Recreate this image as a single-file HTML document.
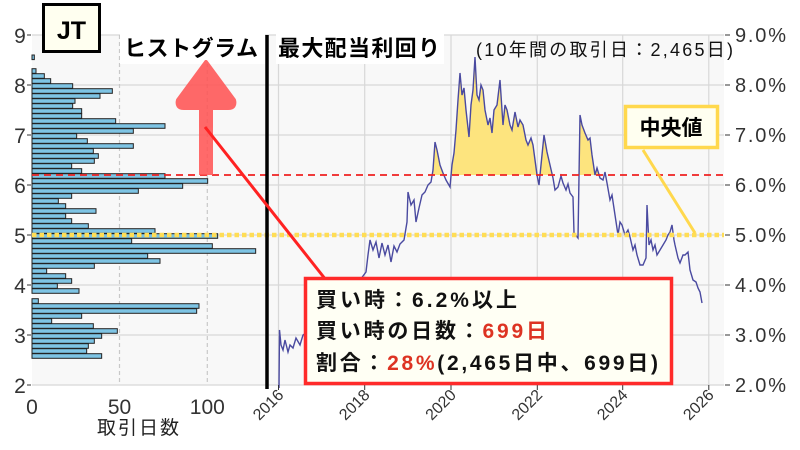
<!DOCTYPE html>
<html><head><meta charset="utf-8"><style>
body{margin:0;background:#fff;}
svg{display:block;font-family:"Liberation Sans","Noto Sans CJK JP",sans-serif;}
</style></head><body>
<svg id="s" width="800" height="450" viewBox="0 0 800 450" xmlns="http://www.w3.org/2000/svg">
<rect x="32" y="35" width="235" height="350" fill="#f8f8f8"/>
<rect x="268" y="35" width="456" height="350" fill="#f8f8f8"/>
<g id="grid" stroke="#d8d8d8" stroke-width="1.2"></g>
<g id="bars"></g>
<defs><clipPath id="above"><rect x="268" y="0" width="460" height="175"/></clipPath></defs>
<polygon id="fill" fill="#fde47e" clip-path="url(#above)"/>
<polyline id="line" fill="none" stroke="#4a4aa0" stroke-width="1.4"/>
<line x1="32" y1="175" x2="724" y2="175" stroke="#ee2222" stroke-width="1.8" stroke-dasharray="7,5"/>
<line x1="32" y1="235" x2="724" y2="235" stroke="#ffdd55" stroke-width="4.5" stroke-dasharray="4.5,3"/>
<line x1="267" y1="35" x2="267" y2="389" stroke="#000" stroke-width="3.5"/>
<g id="labels" fill="#333" font-size="21"></g>
<text x="138" y="434" font-size="19" fill="#222" text-anchor="middle" textLength="82">取引日数</text>
<rect x="120" y="34" width="145" height="30" fill="#fff"/>
<text x="124" y="56" font-size="22" font-weight="bold" fill="#000" textLength="134">ヒストグラム</text>
<rect x="276" y="34" width="168" height="30" fill="#fff"/>
<text x="278" y="56" font-size="22" font-weight="bold" fill="#000" textLength="162">最大配当利回り</text>
<text x="476" y="56" font-size="18" fill="#111" textLength="257">(10年間の取引日：2,465日)</text>
<rect x="43.5" y="4.5" width="56" height="47" fill="#fffff0" stroke="#000" stroke-width="3"/>
<text x="71.5" y="39" font-size="25" font-weight="bold" text-anchor="middle" fill="#000">JT</text>
<g fill="#ff5555" opacity="0.88">
<rect x="199" y="100" width="14" height="75"/>
<path d="M206 62 L234 100 Q236 108 228 108 L184 108 Q176 108 178 100 Z" stroke="#ff5555" stroke-width="4" stroke-linejoin="round"/>
</g>
<line x1="205" y1="127" x2="326" y2="280" stroke="#ff2222" stroke-width="3"/>
<line x1="643" y1="150" x2="695" y2="233" stroke="#ffd84d" stroke-width="3"/>
<rect x="625.5" y="106.5" width="92" height="41" fill="#fffff0" stroke="#ffd84d" stroke-width="3.5"/>
<text x="671" y="135" font-size="21" font-weight="bold" text-anchor="middle" fill="#000">中央値</text>
<rect x="305.5" y="278.5" width="366" height="105" fill="#fffff4" stroke="#ff2a2a" stroke-width="3.5"/>
<g font-size="21" font-weight="bold" fill="#111">
<text x="316" y="307" textLength="201">買い時：6.2%以上</text>
<text x="316" y="338" textLength="231">買い時の日数：<tspan fill="#dd3322">699日</tspan></text>
<text x="316" y="370" textLength="342">割合：<tspan fill="#dd3322">28%</tspan>(2,465日中、699日)</text>
</g>
</svg>
<script>
const NS="http://www.w3.org/2000/svg";
function el(p,t,a,txt){const e=document.createElementNS(NS,t);for(const k in a)e.setAttribute(k,a[k]);if(txt!==undefined)e.textContent=txt;document.getElementById(p).appendChild(e);return e;}
for(let v=2;v<=9;v++){const y=385-(v-2)*50;el("grid","line",{x1:32,x2:724,y1:y,y2:y});}
const yrs=[[2016,278.5],[2018,364.7],[2020,451],[2022,537.3],[2024,622.7],[2026,708.8]];
yrs.forEach(([yr,x])=>{el("grid","line",{x1:x,x2:x,y1:35,y2:385});});
[119.5,207.3].forEach(x=>el("grid","line",{x1:x,x2:x,y1:35,y2:385,"stroke-dasharray":"4,3",stroke:"#c8c8c8"}));
const ends=[108,133,152,218,337,300,225,218,245,245,347,495,400,230,262,400,280,295,283,215,245,495,623,548,415,215,175,197,288,197,215,
265,465,653,395,637,767,443,480,283,140,197,215,172,237,0,115,597,590,245,155,280,352,305,283,265,260,305];
function bar(cy,e){const w=e/3-32;if(w<=0.5)return;el("bars","rect",{x:32,y:cy-2.3,width:w,height:4.6,fill:"#7ec4e4",stroke:"#222","stroke-width":1});}
bar(57.3,103);
ends.forEach((e,i)=>bar(71+5*i,e));
for(let v=2;v<=9;v++){const y=385-(v-2)*50;
 el("labels","text",{x:20,y:y+8,"text-anchor":"middle"},String(v));
 el("labels","text",{x:735,y:y+7,"font-size":20,textLength:51},v.toFixed(1)+"%");
 el("labels","line",{x1:725,x2:730,y1:y,y2:y,stroke:"#333"});
 el("labels","line",{x1:27,x2:31,y1:y,y2:y,stroke:"#333"});}
[[0,32],[50,119.5],[100,207.3]].forEach(([t,x])=>el("labels","text",{x:x,y:414,"text-anchor":"middle"},String(t)));
yrs.forEach(([yr,x])=>{el("labels","text",{x:0,y:0,"font-size":16,"text-anchor":"end",transform:`translate(${x+6},${396}) rotate(-45)`},String(yr));
 el("labels","line",{x1:x,x2:x,y1:385,y2:390,stroke:"#333"});});
const pts=[[279,388],[279.5,330],[281,345],[283,350],[285,340],[288,352],[290,345],[293,348],[296,338],[300,345],[303,335],[310,330],[320,320],[330,315],[340,300],[350,290],[360,280],[366,272],[368,255],[370,240],[373,250],[376,242],[379,258],[382,243],[385,255],[388,245],[391,262],[394,246],[397,252],[400,244],[404,240],[407,222],[408,192],[411,205],[414,200],[416,222],[419,208],[422,195],[425,192],[428,185],[431,182],[433,170],[435,142],[437,150],[440,165],[443,173],[446,180],[450,187],[452,165],[454,153],[456,130],[458,100],[460,73],[462,95],[464,88],[466,110],[469,137],[471,105],[473,90],[475,57],[477,95],[479,100],[481,85],[483,90],[485,110],[488,125],[490,118],[492,133],[494,110],[497,105],[500,80],[502,110],[503,125],[505,105],[507,110],[510,125],[512,130],[515,112],[518,127],[520,120],[523,125],[526,140],[528,145],[531,138],[533,145],[535,160],[537,175],[539,185],[541,165],[544,135],[547,152],[550,165],[553,178],[555,190],[558,187],[561,176],[563,183],[566,190],[568,184],[570,193],[573,197],[574,233],[578,238],[580,115],[582,125],[585,133],[588,140],[590,138],[592,155],[595,175],[597,168],[600,178],[603,180],[605,172],[607,183],[610,200],[612,195],[615,215],[618,235],[620,222],[622,225],[625,235],[628,230],[630,237],[633,250],[635,245],[637,255],[640,265],[643,265],[646,258],[647,205],[649,245],[651,240],[653,250],[655,245],[657,255],[660,250],[663,245],[666,240],[668,235],[670,232],[672,225],[674,240],[675,245],[678,258],[680,263],[683,255],[685,255],[688,252],[690,270],[693,280],[696,282],[698,288],[700,292],[702,303]];
document.getElementById("line").setAttribute("points",pts.map(p=>p.join(",")).join(" "));
document.getElementById("fill").setAttribute("points",pts.map(p=>p.join(",")).join(" ")+" 702,175 279,175");
</script>
</body></html>
